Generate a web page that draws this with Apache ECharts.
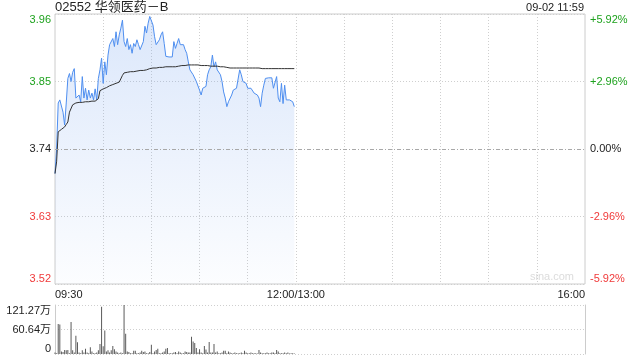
<!DOCTYPE html>
<html>
<head>
<meta charset="utf-8">
<script src="https://cdn.jsdelivr.net/npm/echarts@6/dist/echarts.min.js"></script>
<style>html,body{margin:0;padding:0;background:#fff}#c{width:640px;height:360px}</style>
</head>
<body>
<div id="c"></div>
<script>
const titleText = '02552 华领医药－B';
const stampText = '09-02 11:59';
const prevClose = 3.74;
const priceTicks = { min: 3.52, max: 3.96, interval: 0.11 };
const pctTicks = { min: -5.92, max: 5.92, interval: 2.96 };
const volMax = 121.27;
const volTickLabels = ['0', '60.64万', '121.27万'];
const timeLabelsShown = { 0: '09:30', 150: '12:00/13:00', 330: '16:00' };

const price = [
3.700,3.740,3.815,3.820,3.818,3.800,3.779,3.815,3.855,3.863,
3.850,3.865,3.871,3.823,3.822,3.828,3.817,3.858,3.823,3.839,
3.820,3.836,3.823,3.831,3.820,3.838,3.820,3.855,3.869,3.888,
3.847,3.882,3.861,3.893,3.910,3.912,3.920,3.907,3.931,3.910,
3.926,3.937,3.950,3.915,3.907,3.920,3.902,3.910,3.896,3.912,
3.907,3.918,3.910,3.902,3.899,3.915,3.940,3.929,3.945,3.956,
3.959,3.942,3.923,3.910,3.910,3.918,3.926,3.931,3.912,3.891,
3.890,3.890,3.890,3.890,3.915,3.904,3.912,3.920,3.910,3.912,
3.910,3.902,3.896,3.882,3.869,3.866,3.861,3.858,3.850,3.847,
3.836,3.828,3.839,3.842,3.842,3.861,3.869,3.874,3.893,3.874,
3.882,3.869,3.866,3.861,3.850,3.833,3.823,3.809,3.817,3.820,
3.828,3.836,3.839,3.839,3.839,3.869,3.861,3.850,3.847,3.847,
3.839,3.839,3.839,3.839,3.831,3.828,3.828,3.823,3.809,3.831,
3.844,3.855,3.856,3.856,3.856,3.856,3.839,3.839,3.858,3.823,
3.817,3.847,3.814,3.844,3.820,3.820,3.820,3.817,3.817,3.809
];

const avgPrice = [
3.700,3.719,3.768,3.770,3.772,3.774,3.776,3.780,3.784,3.800,
3.803,3.812,3.815,3.815,3.815,3.816,3.816,3.816,3.816,3.817,
3.817,3.817,3.817,3.818,3.818,3.818,3.818,3.822,3.835,3.837,
3.838,3.839,3.840,3.842,3.843,3.844,3.845,3.846,3.847,3.848,
3.849,3.850,3.860,3.864,3.864,3.865,3.865,3.866,3.866,3.866,
3.867,3.867,3.867,3.868,3.868,3.868,3.869,3.869,3.870,3.871,
3.871,3.872,3.872,3.872,3.873,3.873,3.873,3.873,3.873,3.874,
3.874,3.874,3.874,3.874,3.874,3.874,3.875,3.875,3.876,3.876,
3.876,3.876,3.877,3.877,3.877,3.877,3.877,3.877,3.877,3.877,
3.876,3.876,3.876,3.876,3.876,3.876,3.875,3.875,3.875,3.875,
3.875,3.875,3.874,3.874,3.874,3.874,3.873,3.873,3.873,3.872,
3.872,3.872,3.872,3.872,3.872,3.872,3.872,3.872,3.872,3.872,
3.872,3.872,3.872,3.872,3.872,3.872,3.872,3.872,3.871,3.871,
3.871,3.871,3.871,3.871,3.871,3.871,3.871,3.871,3.871,3.871,
3.871,3.871,3.871,3.871,3.871,3.871,3.871,3.871,3.871,3.871
];

const volume = [
4,2,74,73,6,5,10,9,10,2,
79,9,4,45,29,4,2,9,4,13,
4,2,17,6,2,2,4,9,25,117,
19,58,6,9,4,9,20,12,6,4,
2,4,2,121.27,50,6,5,2,2,8,
8,2,2,4,8,5,6,2,2,5,
23,2,6,10,13,2,2,4,6,13,
15,2,2,2,4,5,2,6,4,2,
2,6,5,4,4,43,31,27,15,4,
12,4,2,20,11,4,30,4,4,25,
4,6,2,2,4,8,8,2,6,4,
2,2,4,2,2,2,4,2,8,4,
2,2,4,2,2,2,1,10,4,2,
2,2,4,2,2,4,4,2,10,6,
2,2,2,4,2,4,1,2,2,1
];

// minute slots 09:30..12:00(=13:00)..16:00
const times = [];
for (let m = 0; m <= 330; m++) {
  let t = m <= 150 ? 570 + m : 780 + (m - 150);
  const hh = String(Math.floor(t / 60)).padStart(2, '0');
  const mm = String(t % 60).padStart(2, '0');
  times.push(m === 150 ? '12:00/13:00' : hh + ':' + mm);
}

const FONT = '"Liberation Sans", Arial, "Noto Sans CJK SC", sans-serif';
const GREEN = '#1ea21e';
const RED = '#f03a3a';
const GRIDC = '#cfcfcf';

function colorFor(v, base) {
  if (v > base + 1e-6) return GREEN;
  if (v < base - 1e-6) return RED;
  return '#222';
}

const chart = echarts.init(document.getElementById('c'), null, { renderer: 'canvas' });
chart.setOption({
  animation: false,
  backgroundColor: '#fff',
  textStyle: { fontFamily: FONT },
  grid: [
    { left: 55, right: 55, top: 14, height: 270, show: true, borderColor: '#cccccc', borderWidth: 1, backgroundColor: 'transparent' },
    { left: 55, right: 55, top: 305, height: 49, show: false }
  ],
  graphic: [
    { type: 'text', left: 55, top: 1, style: { text: titleText, font: '13px ' + FONT, fill: '#222' } },
    { type: 'text', right: 56, top: 2, style: { text: stampText, font: '11px ' + FONT, fill: '#222' } },
    { type: 'text', right: 66, top: 271, style: { text: 'sina.com', font: '11px ' + FONT, fill: '#dcdcdc' } }
  ],
  xAxis: [
    {
      type: 'category', gridIndex: 0, data: times, boundaryGap: false,
      axisLine: { show: false }, axisTick: { show: false },
      axisLabel: {
        interval: (i) => timeLabelsShown[i] !== undefined,
        formatter: (v, i) => v,
        color: '#222', fontSize: 11, margin: 5,
        alignMinLabel: 'left', alignMaxLabel: 'right'
      },
      splitLine: {
        show: true,
        interval: (i) => i % 30 === 0 && i !== 0 && i !== 330,
        lineStyle: { color: GRIDC, type: [1, 2], width: 1 }
      }
    },
    {
      type: 'category', gridIndex: 1, data: times, boundaryGap: false,
      axisLine: { show: false }, axisTick: { show: false },
      axisLabel: { show: false }, splitLine: { show: false }
    }
  ],
  yAxis: [
    {
      type: 'value', gridIndex: 0, position: 'left',
      min: priceTicks.min, max: priceTicks.max, interval: priceTicks.interval,
      axisLine: { show: false }, axisTick: { show: false },
      axisLabel: {
        formatter: (v) => v.toFixed(2),
        color: (v) => colorFor(Number(v), prevClose),
        fontSize: 11, margin: 4,
        verticalAlignMaxLabel: 'top', verticalAlignMinLabel: 'bottom'
      },
      splitLine: { show: true, lineStyle: { color: GRIDC, type: [1, 2] } }
    },
    {
      type: 'value', gridIndex: 0, position: 'right',
      min: pctTicks.min, max: pctTicks.max, interval: pctTicks.interval,
      axisLine: { show: false }, axisTick: { show: false },
      axisLabel: {
        formatter: (v) => (v > 1e-6 ? '+' : '') + (Math.abs(v) < 1e-6 ? 0 : v).toFixed(2) + '%',
        color: (v) => colorFor(Number(v), 0),
        fontSize: 11, margin: 5,
        verticalAlignMaxLabel: 'top', verticalAlignMinLabel: 'bottom'
      },
      splitLine: { show: false }
    },
    {
      type: 'value', gridIndex: 1, position: 'left',
      min: 0, max: volMax, interval: volMax / 2,
      axisLine: { show: true, lineStyle: { color: '#cccccc' } }, axisTick: { show: false },
      axisLabel: {
        formatter: (v, i) => volTickLabels[i],
        color: '#222', fontSize: 11, margin: 4,
        verticalAlignMaxLabel: 'top', verticalAlignMinLabel: 'bottom'
      },
      splitLine: { show: true, lineStyle: { color: GRIDC, type: [1, 2] } }
    },
    {
      type: 'value', gridIndex: 1, position: 'right',
      min: 0, max: volMax,
      axisLine: { show: true, lineStyle: { color: '#cccccc' } }, axisTick: { show: false },
      axisLabel: { show: false }, splitLine: { show: false }
    }
  ],
  series: [
    {
      type: 'line', xAxisIndex: 0, yAxisIndex: 0, data: price,
      symbol: 'none', lineStyle: { color: '#4f8ff0', width: 1 },
      itemStyle: { color: '#4f8ff0' },
      areaStyle: {
        origin: 'start',
        color: new echarts.graphic.LinearGradient(0, 0, 0, 1, [
          { offset: 0, color: 'rgba(120,165,240,0.38)' },
          { offset: 1, color: 'rgba(120,165,240,0.03)' }
        ])
      },
      markLine: {
        silent: true, symbol: 'none', label: { show: false },
        lineStyle: { color: '#a8a8a8', type: [4, 2, 1, 2], width: 1 },
        data: [{ yAxis: prevClose }]
      },
      z: 3
    },
    {
      type: 'line', xAxisIndex: 0, yAxisIndex: 0, data: avgPrice,
      symbol: 'none', lineStyle: { color: '#333333', width: 1 },
      itemStyle: { color: '#333' }, z: 4
    },
    {
      type: 'bar', xAxisIndex: 1, yAxisIndex: 2, data: volume,
      barWidth: 1, itemStyle: { color: '#5a5a5a' }
    }
  ]
});
</script>
</body>
</html>
